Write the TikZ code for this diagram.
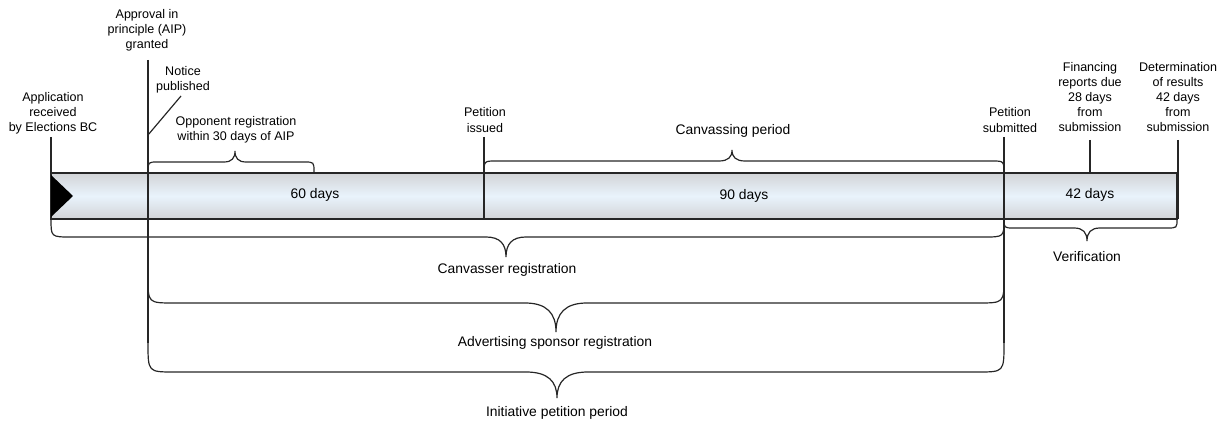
\documentclass[tikz,border=0pt]{standalone}
\usepackage{fontspec}
\setmainfont{Liberation Sans}
\definecolor{barEdge}{RGB}{210,212,215}
\definecolor{barMid}{RGB}{233,243,252}
\definecolor{inkGray}{RGB}{38,38,38}

% curly brace: x left, x right, y ends, y line, y tip, x tip, curl, tip half width
\newcommand{\timebrace}[8]{%
\draw [color=inkGray, line width=0.9pt] ({#1},{#3}) .. controls ({#1},{#4}) .. ({#1+#7},{#4}) -- ({#6-#8},{#4}) .. controls ({#6-0.3*#8},{#4}) and ({#6},{#4+0.35*(#5-#4)}) .. ({#6},{#5}) .. controls ({#6},{#4+0.35*(#5-#4)}) and ({#6+0.3*#8},{#4}) .. ({#6+#8},{#4}) -- ({#2-#7},{#4}) .. controls ({#2},{#4}) .. ({#2},{#3}) ;}

\begin{document}
\begin{tikzpicture}[x=0.75pt,y=0.75pt,yscale=-1,xscale=1,
  tick/.style={color=inkGray, line width=0.9pt},
  toplbl/.style={font=\fontsize{9.4}{11.3}\selectfont, align=center, inner sep=1pt},
  midlbl/.style={font=\fontsize{10.4}{12}\selectfont, align=center, inner sep=1pt}]
\useasboundingbox (0,0) rectangle (1226,423);

%Shape: Bar
\shade [top color=barEdge, bottom color=barEdge, middle color=barMid] (51,173) rectangle (1177,219);
\draw [tick] (51,173) rectangle (1177,219);
%Shape: Start marker
\fill [black] (51,175) -- (73,196) -- (51,217) -- cycle;

%Ticks
\coordinate (applTop) at (51,137);
\coordinate (applEnd) at (51,173);
\coordinate (aipTop) at (148,60);
\coordinate (aipEnd) at (148,343);
\coordinate (issTop) at (484,137);
\coordinate (issEnd) at (484,219);
\coordinate (subTop) at (1004,137);
\coordinate (subEnd) at (1004,343);
\coordinate (finTop) at (1090,140);
\coordinate (finEnd) at (1090,173);
\coordinate (detTop) at (1178,140);
\coordinate (detEnd) at (1178,219);
\coordinate (notTop) at (181,96);
\coordinate (notEnd) at (148,135);
\draw [tick] (applTop) -- (applEnd);
\draw [tick] (aipTop) -- (aipEnd);
\draw [tick] (issTop) -- (issEnd);
\draw [tick] (subTop) -- (subEnd);
\draw [tick] (finTop) -- (finEnd);
\draw [tick] (detTop) -- (detEnd);
\draw [tick] (notTop) -- (notEnd);

%Shape: Braces above the bar
\timebrace{148}{314}{172}{162}{151}{235}{10}{11}
\timebrace{484}{1004}{174}{161}{150}{732}{12}{13}
%Shape: Braces below the bar
\timebrace{51}{1004}{219}{237}{257}{506}{20}{20}
\timebrace{1004}{1177}{219}{228}{241}{1087}{10}{13}
\timebrace{148}{1004}{277}{303}{332}{556}{26}{31}
\timebrace{148}{1004}{343}{372}{398}{557}{26}{31}

% Text Node
\node [toplbl] (appl) at (53,113) {Application\\received\\by Elections BC};
% Text Node
\node [toplbl] (aip) at (147,30) {Approval in\\principle (AIP)\\granted};
% Text Node
\node [toplbl] (notice) at (183,80) {Notice\\published};
% Text Node
\node [toplbl] (opp) at (236,130) {Opponent registration\\within 30 days of AIP};
% Text Node
\node [toplbl] (issued) at (485,120) {Petition\\issued};
% Text Node
\node [midlbl] (canv) at (733,131) {Canvassing period};
% Text Node
\node [toplbl] (submitted) at (1010,120) {Petition\\submitted};
% Text Node
\node [toplbl] (fin) at (1090,97) {Financing\\reports due\\28 days\\from\\submission};
% Text Node
\node [toplbl] (det) at (1178,97) {Determination\\of results\\42 days\\from\\submission};
% Text Node
\node [midlbl] (d60) at (315,195) {60 days};
% Text Node
\node [midlbl] (d90) at (744,196) {90 days};
% Text Node
\node [midlbl] (d42) at (1090,195) {42 days};
% Text Node
\node [midlbl] (verif) at (1087,257) {Verification};
% Text Node
\node [midlbl] (canvreg) at (507,270) {Canvasser registration};
% Text Node
\node [midlbl] (adreg) at (555,343) {Advertising sponsor registration};
% Text Node
\node [midlbl] (initp) at (557,413) {Initiative petition period};

\end{tikzpicture}
\end{document}
